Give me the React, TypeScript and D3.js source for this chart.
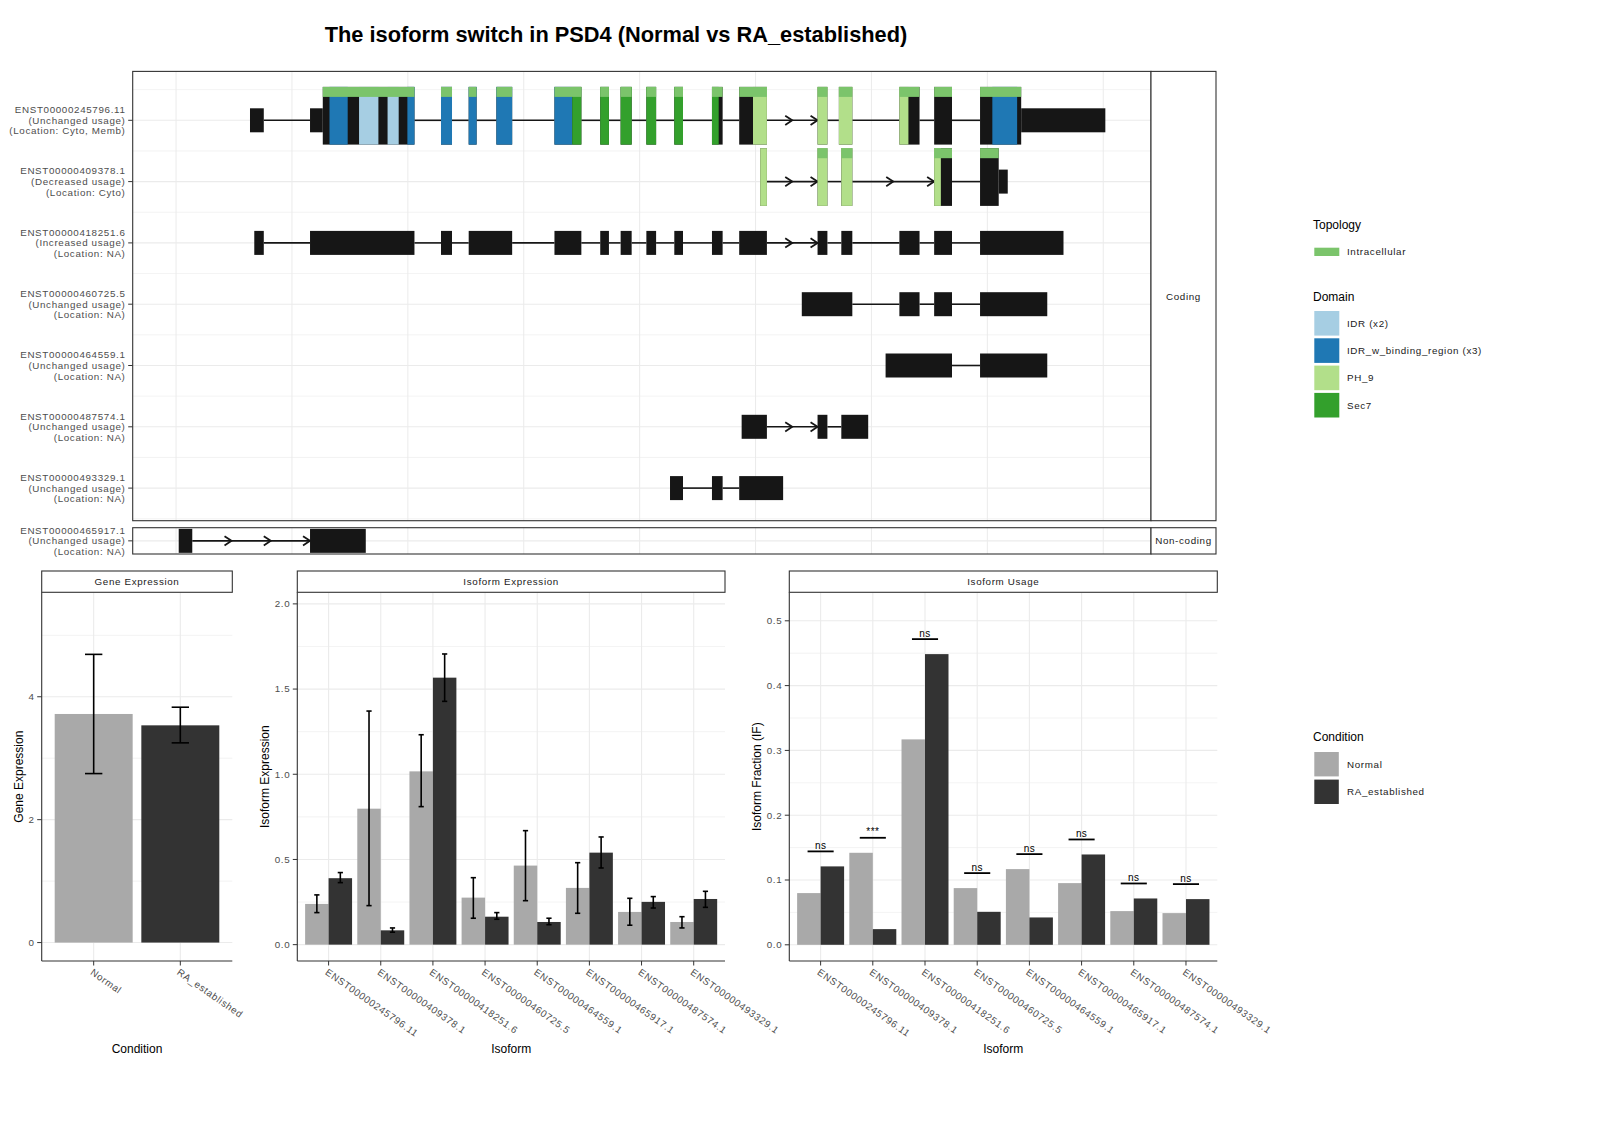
import React from 'react';
import * as d3 from 'd3';

const FONT = '"Liberation Sans", Arial, Helvetica, sans-serif';
const GRID = '#EBEBEB';
const AXIS_TXT = '#4D4D4D';
const EXON = '#161616';

const plotTitle = 'The isoform switch in PSD4 (Normal vs RA_established)';

// ---- transcript structures (top panel), rows in drawing order ----
const rowIds = [
  'ENST00000245796.11', 'ENST00000409378.1', 'ENST00000418251.6', 'ENST00000460725.5',
  'ENST00000464559.1', 'ENST00000487574.1', 'ENST00000493329.1', 'ENST00000465917.1',
];
const rowUsage = [
  'Unchanged usage', 'Decreased usage', 'Increased usage', 'Unchanged usage',
  'Unchanged usage', 'Unchanged usage', 'Unchanged usage', 'Unchanged usage',
];
const rowLocation = ['Cyto, Memb', 'Cyto', 'NA', 'NA', 'NA', 'NA', 'NA', 'NA'];
const rowClass = ['Coding', 'Coding', 'Coding', 'Coding', 'Coding', 'Coding', 'Coding', 'Non-coding'];

// exon [start, end] in relative genomic units (kb from region start)
const exons245796 = [[6.38, 7.57], [11.56, 20.57], [22.86, 23.81], [25.25, 25.93], [27.64, 29.0], [32.65, 34.97], [36.6, 37.35], [38.36, 39.31], [40.58, 41.42], [42.99, 43.74], [46.24, 47.16], [48.59, 50.98], [55.35, 56.2], [57.19, 58.35], [62.41, 64.15], [65.41, 66.95], [69.37, 80.18]];
const exons409378 = [[50.4, 50.98], [55.35, 56.2], [57.4, 58.35], [65.41, 66.95], [69.37, 71.76]];
const exons418251 = [[6.75, 7.57], [11.56, 20.57], [22.86, 23.81], [25.25, 29.0], [32.65, 34.97], [36.6, 37.35], [38.36, 39.31], [40.58, 41.42], [42.99, 43.74], [46.24, 47.16], [48.59, 50.98], [55.35, 56.2], [57.4, 58.35], [62.41, 64.15], [65.41, 66.95], [69.37, 76.57]];
const exons460725 = [[53.99, 58.35], [62.41, 64.15], [65.41, 66.95], [69.37, 75.17]];
const exons464559 = [[61.22, 66.95], [69.37, 75.17]];
const exons487574 = [[48.8, 50.98], [55.35, 56.2], [57.4, 59.72]];
const exons493329 = [[42.62, 43.74], [46.24, 47.16], [48.59, 52.38]];
const exons465917 = [[0.23, 1.4], [11.56, 16.37]];
const rowExons = [exons245796, exons409378, exons418251, exons460725, exons464559, exons487574, exons493329, exons465917];

// coding region per row (null = drawn without ORF)
const cdsStart = [12.66, 50.4, null, null, null, null, null, null];
const cdsEnd = [72.92, 70.98, null, null, null, null, null, null];

// protein domains mapped to the genome
const domainRow = [0, 0, 0, 0, 0, 0, 0, 1];
const domainName = ['IDR_w_binding_region', 'IDR', 'IDR', 'IDR_w_binding_region', 'Sec7', 'PH_9', 'IDR_w_binding_region', 'PH_9'];
const domainStart = [13.24, 15.79, 18.25, 19.96, 34.18, 49.78, 70.43, 50.4];
const domainEnd = [14.81, 17.46, 19.21, 34.18, 46.82, 63.19, 72.57, 65.99];

// topology (intracellular)
const topoRow = [0, 1];
const topoStart = [12.66, 53.0];
const topoEnd = [72.92, 70.98];

// introns drawn with direction arrows: row, intron start, number of arrows
const arrowRow = [0, 1, 1, 2, 5, 7];
const arrowIntronStart = [50.98, 50.98, 58.35, 50.98, 50.98, 1.4];
const arrowCount = [2, 2, 2, 2, 2, 3];

const domainLevels = ['IDR', 'IDR_w_binding_region', 'PH_9', 'Sec7'];
const domainLabels = ['IDR (x2)', 'IDR_w_binding_region (x3)', 'PH_9', 'Sec7'];
const domainColors = ['#A6CEE3', '#1F78B4', '#B2DF8A', '#33A02C'];
const topologyLabel = 'Intracellular';
const topologyColor = '#7BC46B';

// ---- expression data ----
const conditions = ['Normal', 'RA_established'];
const conditionColors = ['#A9A9A9', '#333333'];

const geneExpr = [3.72, 3.535];
const geneExprLo = [2.75, 3.25];
const geneExprHi = [4.69, 3.83];

const isoforms = [
  'ENST00000245796.11', 'ENST00000409378.1', 'ENST00000418251.6', 'ENST00000460725.5',
  'ENST00000464559.1', 'ENST00000465917.1', 'ENST00000487574.1', 'ENST00000493329.1',
];
const isoExprNormal = [0.239, 0.798, 1.017, 0.276, 0.464, 0.333, 0.192, 0.133];
const isoExprNormalLo = [0.188, 0.229, 0.81, 0.155, 0.258, 0.184, 0.114, 0.098];
const isoExprNormalHi = [0.292, 1.371, 1.232, 0.393, 0.669, 0.481, 0.272, 0.164];
const isoExprRA = [0.39, 0.084, 1.567, 0.164, 0.133, 0.54, 0.251, 0.268];
const isoExprRALo = [0.364, 0.073, 1.428, 0.149, 0.117, 0.45, 0.215, 0.219];
const isoExprRAHi = [0.423, 0.098, 1.706, 0.188, 0.155, 0.632, 0.282, 0.313];

const ifNormal = [0.0798, 0.142, 0.317, 0.0875, 0.1168, 0.0952, 0.052, 0.0489];
const ifRA = [0.121, 0.0242, 0.4486, 0.0509, 0.0422, 0.1394, 0.0715, 0.0705];
const ifSignif = ['ns', '***', 'ns', 'ns', 'ns', 'ns', 'ns', 'ns'];

const smallText = { fontSize: 9.8, letterSpacing: 0.65 };

function TranscriptPanel() {
  const left = 132.7;
  const right = 1151;
  const stripRight = 1216;
  const x = d3.scaleLinear().domain([-3.74, 84.12]).range([left, right]);
  const rowY = d3.scaleLinear().domain([0, 6]).range([120.3, 488.1]);
  const facets = [
    { name: 'Coding', top: 71.4, bottom: 520.7 },
    { name: 'Non-coding', top: 527.7, bottom: 554 },
  ];
  const yOf = (i: number) =>
    rowClass[i] === 'Coding' ? rowY(i) : (facets[1].top + facets[1].bottom) / 2;
  const gridX = x.ticks(10);
  const tallUp = 33.4;
  const tallDown = 24.3;
  const thin = 12;
  const topoH = 10;

  const minorRows = d3.range(-0.5, 7, 1);

  return (
    <g>
      {facets.map((f) => (
        <g key={f.name}>
          <rect x={left} y={f.top} width={right - left} height={f.bottom - f.top} fill="#fff" />
          {gridX.map((g) => (
            <line key={g} x1={x(g)} x2={x(g)} y1={f.top} y2={f.bottom} stroke={GRID} strokeWidth={1} />
          ))}
        </g>
      ))}
      {minorRows.map((r) => (
        <line key={'mn' + r} x1={left} x2={right} y1={rowY(r)} y2={rowY(r)} stroke={GRID} strokeWidth={0.6} />
      ))}
      {rowIds.map((id, i) => (
        <line key={'mj' + id} x1={left} x2={right} y1={yOf(i)} y2={yOf(i)} stroke={GRID} strokeWidth={1.1} />
      ))}

      {rowIds.map((id, i) => {
        const c = yOf(i);
        const ex = rowExons[i];
        const cs = cdsStart[i];
        const ce = cdsEnd[i];
        const tall: number[][] = [];
        const thinParts: number[][] = [];
        ex.forEach(([s, e]) => {
          if (cs === null || ce === null) {
            thinParts.push([s, e]);
            return;
          }
          const ts = Math.max(s, cs);
          const te = Math.min(e, ce);
          if (te > ts) tall.push([ts, te]);
          if (s < cs) thinParts.push([s, Math.min(e, cs)]);
          if (e > ce) thinParts.push([Math.max(s, ce), e]);
        });
        const introns = ex.slice(0, -1).map((d, k) => [d[1], ex[k + 1][0]]);
        const overlaps = (a: number[], s: number, e: number) => {
          const os = Math.max(a[0], s);
          const oe = Math.min(a[1], e);
          return oe > os ? [os, oe] : null;
        };
        return (
          <g key={id}>
            {introns.map(([s, e]) => {
              const ai = arrowRow.findIndex((r, k) => r === i && Math.abs(arrowIntronStart[k] - s) < 1e-6);
              const n = ai >= 0 ? arrowCount[ai] : 0;
              const tips = d3.range(1, n + 1).map((k) => x(s) + ((x(e) - x(s)) * k) / n);
              return (
                <g key={'in' + s}>
                  <line x1={x(s)} x2={x(e)} y1={c} y2={c} stroke={EXON} strokeWidth={1.6} />
                  {tips.map((t) => (
                    <path key={t} d={`M${t - 7},${c - 4.6}L${t},${c}L${t - 7},${c + 4.6}`} fill="none" stroke={EXON} strokeWidth={1.8} />
                  ))}
                </g>
              );
            })}
            {thinParts.map(([s, e]) => (
              <rect key={'th' + s} x={x(s)} y={c - thin} width={x(e) - x(s)} height={thin * 2} fill={EXON} />
            ))}
            {tall.map(([s, e]) => (
              <rect key={'tl' + s} x={x(s)} y={c - tallUp} width={x(e) - x(s)} height={tallUp + tallDown} fill={EXON} />
            ))}
            {domainRow.map((r, k) => {
              if (r !== i) return null;
              const col = domainColors[domainLevels.indexOf(domainName[k])];
              return tall.map((t) => {
                const o = overlaps(t, domainStart[k], domainEnd[k]);
                if (!o) return null;
                return (
                  <rect key={'dm' + k + '-' + t[0]} x={x(o[0])} y={c - tallUp} width={x(o[1]) - x(o[0])} height={tallUp + tallDown} fill={col} />
                );
              });
            })}
            {topoRow.map((r, k) => {
              if (r !== i) return null;
              return tall.map((t) => {
                const o = overlaps(t, topoStart[k], topoEnd[k]);
                if (!o) return null;
                return (
                  <rect key={'tp' + k + '-' + t[0]} x={x(o[0])} y={c - tallUp} width={x(o[1]) - x(o[0])} height={topoH} fill={topologyColor} />
                );
              });
            })}
          </g>
        );
      })}

      {facets.map((f) => (
        <g key={'fr' + f.name}>
          <rect x={left} y={f.top} width={right - left} height={f.bottom - f.top} fill="none" stroke="#333" strokeWidth={1.1} />
          <rect x={right} y={f.top} width={stripRight - right} height={f.bottom - f.top} fill="#fff" stroke="#333" strokeWidth={1.1} />
          <text x={(right + stripRight) / 2} y={(f.top + f.bottom) / 2 + 3.5} textAnchor="middle" fill="#1A1A1A" {...smallText}>
            {f.name}
          </text>
        </g>
      ))}

      {rowIds.map((id, i) => {
        const c = yOf(i);
        return (
          <g key={'lb' + id} fill={AXIS_TXT} {...smallText} textAnchor="end">
            <line x1={left - 4.5} x2={left} y1={c} y2={c} stroke="#333" strokeWidth={1} />
            <text x={125.5} y={c - 10.7 + 3.4}>{id}</text>
            <text x={125.5} y={c + 3.4}>({rowUsage[i]})</text>
            <text x={125.5} y={c + 10.7 + 3.4}>(Location: {rowLocation[i]})</text>
          </g>
        );
      })}
    </g>
  );
}

function Legends() {
  const kx = 1314.3;
  const kw = 25;
  const lx = 1347;
  const domainY = d3.scaleLinear().domain([0, 1]).range([311, 338.3]);
  const condY = d3.scaleLinear().domain([0, 1]).range([752, 779.6]);
  return (
    <g>
      <text x={1313} y={229} fontSize={12}>Topology</text>
      <rect x={kx} y={247.7} width={kw} height={8.3} fill={topologyColor} />
      <text x={lx} y={255} fill="#1A1A1A" {...smallText}>{topologyLabel}</text>

      <text x={1313} y={300.8} fontSize={12}>Domain</text>
      {domainLevels.map((d, i) => (
        <g key={d}>
          <rect x={kx} y={domainY(i)} width={kw} height={24.6} fill={domainColors[i]} />
          <text x={lx} y={domainY(i) + 12.3 + 3.4} fill="#1A1A1A" {...smallText}>{domainLabels[i]}</text>
        </g>
      ))}

      <text x={1313} y={741} fontSize={12}>Condition</text>
      {conditions.map((c, i) => (
        <g key={c}>
          <rect x={kx} y={condY(i)} width={24.5} height={24.4} fill={conditionColors[i]} />
          <text x={lx} y={condY(i) + 12.2 + 3.4} fill="#1A1A1A" {...smallText}>{c}</text>
        </g>
      ))}
    </g>
  );
}

type BarProps = {
  x0: number;
  x1: number;
  title: string;
  cats: string[];
  values: number[][];
  lo?: number[][];
  hi?: number[][];
  dodge: boolean;
  yDomain: [number, number];
  yTicks: number[];
  yMinor: number[];
  fmt: (v: number) => string;
  yTitle: string;
  yTitleX: number;
  xTitle: string;
  signif?: string[];
};

function BarPanel(p: BarProps) {
  const top = 592.3;
  const bottom = 961;
  const stripTop = 571;
  const y = d3.scaleLinear().domain(p.yDomain).range([bottom, top]);
  const xp = d3.scalePoint<string>().domain(p.cats).range([p.x0, p.x1]).padding(0.6);
  const step = xp.step();
  const nSer = p.values.length;
  const barW = p.dodge ? (0.9 * step) / nSer : 0.9 * step;
  const whisk = p.dodge ? 0.05 * step : 0.1 * step;

  const bars: { key: string; cx: number; v: number; lo?: number; hi?: number; fill: string }[] = [];
  p.cats.forEach((cat, i) => {
    const cx = xp(cat) as number;
    p.values.forEach((row, k) => {
      const off = p.dodge ? (k - (nSer - 1) / 2) * barW : 0;
      bars.push({
        key: cat + k,
        cx: cx + off,
        v: row[i],
        lo: p.lo ? p.lo[k][i] : undefined,
        hi: p.hi ? p.hi[k][i] : undefined,
        fill: p.dodge ? conditionColors[k] : conditionColors[i],
      });
    });
  });

  return (
    <g>
      {p.yMinor.map((v) => (
        <line key={'mn' + v} x1={p.x0} x2={p.x1} y1={y(v)} y2={y(v)} stroke={GRID} strokeWidth={0.6} />
      ))}
      {p.yTicks.map((v) => (
        <line key={'mj' + v} x1={p.x0} x2={p.x1} y1={y(v)} y2={y(v)} stroke={GRID} strokeWidth={1.1} />
      ))}
      {p.cats.map((cat) => (
        <line key={'vx' + cat} x1={xp(cat)} x2={xp(cat)} y1={top} y2={bottom} stroke={GRID} strokeWidth={1.1} />
      ))}

      {bars.map((b) => (
        <rect key={b.key} x={b.cx - barW / 2} y={y(b.v)} width={barW} height={y(0) - y(b.v)} fill={b.fill} />
      ))}
      {bars.map((b) =>
        b.lo === undefined || b.hi === undefined ? null : (
          <g key={'eb' + b.key} stroke="#000" strokeWidth={1.6}>
            <line x1={b.cx} x2={b.cx} y1={y(b.hi)} y2={y(b.lo)} />
            <line x1={b.cx - whisk} x2={b.cx + whisk} y1={y(b.hi)} y2={y(b.hi)} />
            <line x1={b.cx - whisk} x2={b.cx + whisk} y1={y(b.lo)} y2={y(b.lo)} />
          </g>
        )
      )}
      {p.signif &&
        p.cats.map((cat, i) => {
          const cx = xp(cat) as number;
          const ly = y(d3.max(p.values, (row) => row[i]) as number) - 15;
          return (
            <g key={'sg' + cat}>
              <line x1={cx - step / 4} x2={cx + step / 4} y1={ly} y2={ly} stroke="#000" strokeWidth={1.8} />
              <text x={cx} y={ly - 2.5} textAnchor="middle" fontSize={10} letterSpacing={0.4}>{p.signif![i]}</text>
            </g>
          );
        })}

      {/* axis lines */}
      <line x1={p.x0} x2={p.x0} y1={top} y2={bottom} stroke="#333" strokeWidth={1.1} />
      <line x1={p.x0} x2={p.x1} y1={bottom} y2={bottom} stroke="#333" strokeWidth={1.1} />

      {/* strip */}
      <rect x={p.x0} y={stripTop} width={p.x1 - p.x0} height={top - stripTop} fill="#fff" stroke="#333" strokeWidth={1.1} />
      <text x={(p.x0 + p.x1) / 2} y={(stripTop + top) / 2 + 3.4} textAnchor="middle" fill="#1A1A1A" {...smallText}>
        {p.title}
      </text>

      {p.yTicks.map((v) => (
        <g key={'yt' + v}>
          <line x1={p.x0 - 4.5} x2={p.x0} y1={y(v)} y2={y(v)} stroke="#333" strokeWidth={1} />
          <text x={p.x0 - 7} y={y(v) + 3.4} textAnchor="end" fill={AXIS_TXT} {...smallText}>{p.fmt(v)}</text>
        </g>
      ))}
      {p.cats.map((cat) => {
        const cx = xp(cat) as number;
        return (
          <g key={'xt' + cat}>
            <line x1={cx} x2={cx} y1={bottom} y2={bottom + 4.5} stroke="#333" strokeWidth={1} />
            <text transform={`translate(${cx},${bottom + 7}) rotate(35)`} dy="0.72em" fill={AXIS_TXT} {...smallText}>
              {cat}
            </text>
          </g>
        );
      })}

      <text transform={`translate(${p.yTitleX},${(top + bottom) / 2}) rotate(-90)`} textAnchor="middle" fontSize={12}>
        {p.yTitle}
      </text>
      <text x={(p.x0 + p.x1) / 2} y={1053} textAnchor="middle" fontSize={12}>
        {p.xTitle}
      </text>
    </g>
  );
}

export default function App() {
  return (
    <svg
      width={1600}
      height={1142}
      style={{ position: 'absolute', left: 0, top: 0, display: 'block' }}
      fontFamily={FONT}
    >
      <rect width={1600} height={1142} fill="#fff" />
      <text x={616} y={41.5} textAnchor="middle" fontSize={21.8} fontWeight="bold">
        {plotTitle}
      </text>
      <TranscriptPanel />
      <Legends />
      <BarPanel
        x0={41.7}
        x1={232.3}
        title="Gene Expression"
        cats={conditions}
        values={[geneExpr]}
        lo={[geneExprLo]}
        hi={[geneExprHi]}
        dodge={false}
        yDomain={[-0.3, 5.7]}
        yTicks={[0, 2, 4]}
        yMinor={[1, 3, 5]}
        fmt={d3.format('d')}
        yTitle="Gene Expression"
        yTitleX={22.5}
        xTitle="Condition"
      />
      <BarPanel
        x0={297.3}
        x1={725}
        title="Isoform Expression"
        cats={isoforms}
        values={[isoExprNormal, isoExprRA]}
        lo={[isoExprNormalLo, isoExprRALo]}
        hi={[isoExprNormalHi, isoExprRAHi]}
        dodge={true}
        yDomain={[-0.096, 2.068]}
        yTicks={[0, 0.5, 1, 1.5, 2]}
        yMinor={[0.25, 0.75, 1.25, 1.75]}
        fmt={d3.format('.1f')}
        yTitle="Isoform Expression"
        yTitleX={269}
        xTitle="Isoform"
      />
      <BarPanel
        x0={789.3}
        x1={1217.3}
        title="Isoform Usage"
        cats={isoforms}
        values={[ifNormal, ifRA]}
        dodge={true}
        yDomain={[-0.025, 0.544]}
        yTicks={[0, 0.1, 0.2, 0.3, 0.4, 0.5]}
        yMinor={[0.05, 0.15, 0.25, 0.35, 0.45]}
        fmt={d3.format('.1f')}
        yTitle="Isoform Fraction (IF)"
        yTitleX={761}
        xTitle="Isoform"
        signif={ifSignif}
      />
    </svg>
  );
}
